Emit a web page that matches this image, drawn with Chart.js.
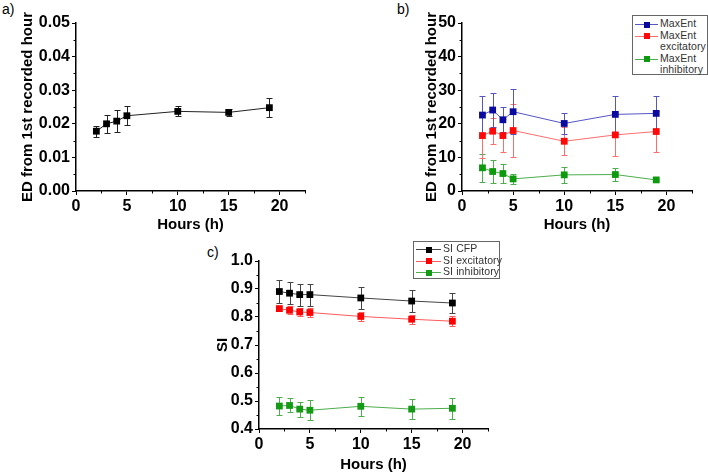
<!DOCTYPE html>
<html><head><meta charset="utf-8">
<script src="https://cdn.jsdelivr.net/npm/chart.js@4/dist/chart.umd.min.js"></script>
<style>
html,body{margin:0;padding:0;background:#fff;}
body{width:708px;height:474px;position:relative;overflow:hidden;font-family:"Liberation Sans",Arial,sans-serif;}
.cv{position:absolute;}
.plabel{position:absolute;font-size:14px;color:#000;line-height:14px;}
.legend{position:absolute;border:1px solid #666;background:#fff;color:#333;font-size:10.5px;line-height:11.5px;letter-spacing:0.1px;box-sizing:border-box;padding:2px 2px;}
.row{display:flex;align-items:flex-start;}
.mk{position:relative;flex:0 0 auto;height:11.5px;}
.mk .ln{position:absolute;left:0;right:0;top:6px;height:1px;}
.mk .sq{position:absolute;top:3.5px;width:6px;height:6px;}
.txt{white-space:pre;}
</style>
</head><body>
<div class="plabel" style="left:2px;top:2px;">a)</div>
<div class="plabel" style="left:397px;top:2px;">b)</div>
<div class="plabel" style="left:207px;top:245px;">c)</div>
<canvas id="ca" class="cv" width="310" height="235" style="left:0;top:0;"></canvas>
<canvas id="cb" class="cv" width="298" height="235" style="left:410px;top:0;"></canvas>
<canvas id="cc" class="cv" width="300" height="239" style="left:205px;top:235px;"></canvas>
<div id="legb" class="legend" style="left:632px;top:15px;width:76px;height:60px;"></div>
<div id="legc" class="legend" style="left:413px;top:241px;width:87px;height:38px;padding-top:1px;"></div>
<script>
// ---------- data ----------
const hours = [2, 3, 4, 5, 10, 15, 19];
const xTicks = [0, 5, 10, 15, 20];

// panel a
const edMean = [0.0178, 0.0200, 0.0208, 0.0224, 0.0237, 0.0234, 0.0248];
const edErr  = [0.0016, 0.0026, 0.0032, 0.0028, 0.0015, 0.0010, 0.0029];
const edTicks = [0.00, 0.01, 0.02, 0.03, 0.04, 0.05];

// panel b
const maxEntLabels = ["MaxEnt", "MaxEnt\nexcitatory", "MaxEnt\ninhibitory"];
const maxEnt       = [22.6, 24.1, 21.2, 23.6, 20.1, 22.8, 23.1];
const maxEntErr    = [5.6, 5.1, 3.7, 6.7, 3.1, 5.4, 5.1];
const maxEntExc    = [16.5, 17.8, 16.5, 18.0, 14.8, 16.7, 17.7];
const maxEntExcErr = [6.7, 3.8, 4.8, 7.9, 4.1, 6.3, 6.2];
const maxEntInh    = [6.9, 5.8, 5.2, 3.6, 4.8, 4.9, 3.3];
const maxEntInhErr = [4.2, 3.3, 2.7, 1.4, 2.3, 2.0, 0.3];
const bTicks = [0, 10, 20, 30, 40, 50];

// panel c
const siLabels = ["SI CFP", "SI excitatory", "SI inhibitory"];
const siCfp    = [0.891, 0.885, 0.880, 0.880, 0.868, 0.857, 0.850];
const siCfpErr = [0.041, 0.040, 0.039, 0.039, 0.038, 0.038, 0.037];
const siExc    = [0.830, 0.824, 0.818, 0.816, 0.802, 0.792, 0.785];
const siExcErr = [0.010, 0.015, 0.015, 0.015, 0.015, 0.016, 0.018];
const siInh    = [0.482, 0.484, 0.471, 0.467, 0.481, 0.471, 0.474];
const siInhErr = [0.032, 0.025, 0.027, 0.035, 0.033, 0.036, 0.037];
const cTicks = [0.4, 0.5, 0.6, 0.7, 0.8, 0.9, 1.0];

// ---------- helpers ----------
const FONT = '"Liberation Sans", Arial, sans-serif';
const pts = (ys) => hours.map((h, i) => ({x: h, y: ys[i]}));

function series(label, ys, errs, mark, line) {
  return {
    label, data: pts(ys), errors: errs, errorColor: line,
    borderColor: line, backgroundColor: mark, borderWidth: 1,
    pointStyle: 'rect', pointRadius: 4.8, pointBorderWidth: 0,
    pointBackgroundColor: mark, pointBorderColor: mark,
    tension: 0, fill: false
  };
}

const errorBars = {
  id: 'errorBars',
  beforeDatasetsDraw(chart) {
    const ctx = chart.ctx, ys = chart.scales.y;
    chart.data.datasets.forEach((ds, i) => {
      if (!ds.errors) return;
      const meta = chart.getDatasetMeta(i);
      ctx.save();
      ctx.strokeStyle = ds.errorColor;
      ctx.lineWidth = 1;
      meta.data.forEach((pt, j) => {
        const v = ds.data[j].y, e = ds.errors[j];
        const x = Math.round(pt.x) + 0.5;
        const y1 = Math.round(ys.getPixelForValue(v + e)) + 0.5;
        const y2 = Math.round(ys.getPixelForValue(v - e)) + 0.5;
        ctx.beginPath();
        ctx.moveTo(x, y1); ctx.lineTo(x, y2);
        ctx.moveTo(x - 3, y1); ctx.lineTo(x + 3, y1);
        ctx.moveTo(x - 3, y2); ctx.lineTo(x + 3, y2);
        ctx.stroke();
      });
      ctx.restore();
    });
  }
};

const minorTicks = {
  id: 'minorTicks',
  afterDraw(chart, args, opts) {
    const ctx = chart.ctx, xs = chart.scales.x, ys = chart.scales.y, ca = chart.chartArea;
    ctx.save();
    ctx.strokeStyle = '#000';
    ctx.lineWidth = 1;
    ctx.beginPath();
    const xm = opts.x;
    for (let k = 0; k < xTicks.length; k++) {
      const v = xTicks[k] + xm;
      if (v > xs.max + 1e-9) break;
      const px = Math.round(xs.getPixelForValue(v)) + 0.5;
      ctx.moveTo(px, ca.bottom); ctx.lineTo(px, ca.bottom + 2.5);
    }
    const yt = opts.yTicks;
    for (let k = 0; k < yt.length - 1; k++) {
      const v = (yt[k] + yt[k + 1]) / 2;
      const py = Math.round(ys.getPixelForValue(v)) + 0.5;
      ctx.moveTo(ca.left, py); ctx.lineTo(ca.left - 2.5, py);
    }
    ctx.stroke();
    ctx.restore();
  }
};

function makeChart(id, datasets, cfg) {
  const el = document.getElementById(id);
  return new Chart(el, {
    type: 'line',
    data: {datasets},
    plugins: [errorBars, minorTicks],
    options: {
      responsive: false, animation: false, devicePixelRatio: 1,
      layout: {autoPadding: false, padding: cfg.padding},
      plugins: {
        legend: {display: false}, tooltip: {enabled: false},
        minorTicks: {x: 2.5, yTicks: cfg.yTicks}
      },
      scales: {
        x: {
          type: 'linear', min: 0, max: 22.5,
          afterBuildTicks: (s) => { s.ticks = xTicks.map(v => ({value: v})); },
          afterFit: (s) => { s.height = cfg.xHeight; },
          border: {display: true, color: '#000', width: 1.5},
          grid: {display: true, drawOnChartArea: false, drawTicks: true, tickLength: 4, tickColor: '#000', tickWidth: 1},
          ticks: {color: '#000', padding: 2, maxRotation: 0, font: {family: FONT, size: 16, weight: 'bold'}},
          title: {display: true, text: 'Hours (h)', color: '#000', padding: {top: 0, bottom: cfg.xTitlePad},
                  font: {family: FONT, size: 15, weight: 'bold', lineHeight: 1.2}}
        },
        y: {
          type: 'linear', min: cfg.yTicks[0], max: cfg.yTicks[cfg.yTicks.length - 1],
          afterBuildTicks: (s) => { s.ticks = cfg.yTicks.map(v => ({value: v})); },
          afterFit: (s) => { s.width = cfg.yWidth; },
          border: {display: true, color: '#000', width: 1.5},
          grid: {display: true, drawOnChartArea: false, drawTicks: true, tickLength: 4, tickColor: '#000', tickWidth: 1},
          ticks: {color: '#000', padding: 2, callback: (v) => Number(v).toFixed(cfg.dec),
                  font: {family: FONT, size: 16, weight: 'bold'}},
          title: {display: true, text: cfg.yTitle, color: '#000', padding: {top: cfg.yTitlePad, bottom: 0},
                  font: {family: FONT, size: 15, weight: 'bold', lineHeight: 1.2}}
        }
      }
    }
  });
}

// ---------- charts ----------
const chA = makeChart('ca', [
  series('ED', edMean, edErr, '#000000', '#222222')
], {padding: {left: 0, top: 23, right: 5, bottom: 0}, xHeight: 44, yWidth: 76,
    yTicks: edTicks, dec: 2, yTitle: 'ED from 1st recorded hour', yTitlePad: 19, xTitlePad: 1});

const chB = makeChart('cb', [
  series(maxEntLabels[2], maxEntInh, maxEntInhErr, '#0e9a0e', '#4cae4c'),
  series(maxEntLabels[1], maxEntExc, maxEntExcErr, '#ff0808', '#ff6e6e'),
  series(maxEntLabels[0], maxEnt, maxEntErr, '#0a0a9e', '#5555c4')
], {padding: {left: 0, top: 23, right: 16, bottom: 0}, xHeight: 44, yWidth: 52,
    yTicks: bTicks, dec: 0, yTitle: 'ED from 1st recorded hour', yTitlePad: 13, xTitlePad: 1});

const chC = makeChart('cc', [
  series(siLabels[2], siInh, siInhErr, '#149a14', '#4cae4c'),
  series(siLabels[1], siExc, siExcErr, '#ff0000', '#ff5a5a'),
  series(siLabels[0], siCfp, siCfpErr, '#000000', '#444444')
], {padding: {left: 0, top: 26, right: 17, bottom: 0}, xHeight: 45, yWidth: 54,
    yTicks: cTicks, dec: 1, yTitle: 'SI', yTitlePad: 9, xTitlePad: 0});

// ---------- HTML legends built from the datasets ----------
function buildLegend(chart, elId, lineW) {
  const el = document.getElementById(elId);
  const dss = chart.data.datasets.slice().reverse();
  dss.forEach(ds => {
    const row = document.createElement('div');
    row.className = 'row';
    const mk = document.createElement('div');
    mk.className = 'mk';
    mk.style.width = lineW + 'px';
    mk.style.marginRight = '2px';
    const ln = document.createElement('div');
    ln.className = 'ln'; ln.style.background = ds.borderColor;
    const sq = document.createElement('div');
    sq.className = 'sq'; sq.style.background = ds.pointBackgroundColor;
    sq.style.left = (lineW / 2 - 3) + 'px';
    mk.appendChild(ln); mk.appendChild(sq);
    const tx = document.createElement('div');
    tx.className = 'txt'; tx.textContent = ds.label;
    row.appendChild(mk); row.appendChild(tx);
    el.appendChild(row);
  });
}
buildLegend(chB, 'legb', 23);
buildLegend(chC, 'legc', 25);
</script>
</body></html>
